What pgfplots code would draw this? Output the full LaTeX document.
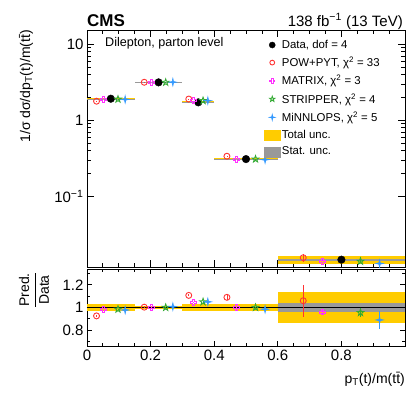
\documentclass[border=0pt]{standalone}
\usepackage{fontspec}
\setmainfont{Liberation Sans}
\usepackage{pgfplots}
\pgfplotsset{compat=1.18}

\definecolor{cmsyellow}{HTML}{FFCC00}
\definecolor{cmsgray}{HTML}{999999}
\definecolor{powred}{HTML}{FF3333}
\definecolor{matmag}{HTML}{FF33FF}
\definecolor{strgreen}{HTML}{33AA33}
\definecolor{minblue}{HTML}{3399FF}

\pgfdeclareplotmark{ocross}{%
  \pgfpathmoveto{\pgfqpoint{0.35\pgfplotmarksize}{\pgfplotmarksize}}%
  \pgfpathlineto{\pgfqpoint{0.35\pgfplotmarksize}{0.35\pgfplotmarksize}}%
  \pgfpathlineto{\pgfqpoint{\pgfplotmarksize}{0.35\pgfplotmarksize}}%
  \pgfpathlineto{\pgfqpoint{\pgfplotmarksize}{-0.35\pgfplotmarksize}}%
  \pgfpathlineto{\pgfqpoint{0.35\pgfplotmarksize}{-0.35\pgfplotmarksize}}%
  \pgfpathlineto{\pgfqpoint{0.35\pgfplotmarksize}{-\pgfplotmarksize}}%
  \pgfpathlineto{\pgfqpoint{-0.35\pgfplotmarksize}{-\pgfplotmarksize}}%
  \pgfpathlineto{\pgfqpoint{-0.35\pgfplotmarksize}{-0.35\pgfplotmarksize}}%
  \pgfpathlineto{\pgfqpoint{-\pgfplotmarksize}{-0.35\pgfplotmarksize}}%
  \pgfpathlineto{\pgfqpoint{-\pgfplotmarksize}{0.35\pgfplotmarksize}}%
  \pgfpathlineto{\pgfqpoint{-0.35\pgfplotmarksize}{0.35\pgfplotmarksize}}%
  \pgfpathlineto{\pgfqpoint{-0.35\pgfplotmarksize}{\pgfplotmarksize}}%
  \pgfpathclose\pgfusepathqstroke}
\pgfdeclareplotmark{ostar}{%
  \pgfpathmoveto{\pgfqpoint{0pt}{\pgfplotmarksize}}%
  \pgfpathlineto{\pgfqpoint{-0.235\pgfplotmarksize}{0.324\pgfplotmarksize}}%
  \pgfpathlineto{\pgfqpoint{-0.951\pgfplotmarksize}{0.309\pgfplotmarksize}}%
  \pgfpathlineto{\pgfqpoint{-0.380\pgfplotmarksize}{-0.124\pgfplotmarksize}}%
  \pgfpathlineto{\pgfqpoint{-0.588\pgfplotmarksize}{-0.809\pgfplotmarksize}}%
  \pgfpathlineto{\pgfqpoint{0pt}{-0.4\pgfplotmarksize}}%
  \pgfpathlineto{\pgfqpoint{0.588\pgfplotmarksize}{-0.809\pgfplotmarksize}}%
  \pgfpathlineto{\pgfqpoint{0.380\pgfplotmarksize}{-0.124\pgfplotmarksize}}%
  \pgfpathlineto{\pgfqpoint{0.951\pgfplotmarksize}{0.309\pgfplotmarksize}}%
  \pgfpathlineto{\pgfqpoint{0.235\pgfplotmarksize}{0.324\pgfplotmarksize}}%
  \pgfpathclose\pgfusepathqstroke}
\pgfdeclareplotmark{fstar}{%
  \pgfpathmoveto{\pgfqpoint{0pt}{\pgfplotmarksize}}%
  \pgfpathlineto{\pgfqpoint{0.18\pgfplotmarksize}{0.18\pgfplotmarksize}}%
  \pgfpathlineto{\pgfqpoint{\pgfplotmarksize}{0pt}}%
  \pgfpathlineto{\pgfqpoint{0.18\pgfplotmarksize}{-0.18\pgfplotmarksize}}%
  \pgfpathlineto{\pgfqpoint{0pt}{-\pgfplotmarksize}}%
  \pgfpathlineto{\pgfqpoint{-0.18\pgfplotmarksize}{-0.18\pgfplotmarksize}}%
  \pgfpathlineto{\pgfqpoint{-\pgfplotmarksize}{0pt}}%
  \pgfpathlineto{\pgfqpoint{-0.18\pgfplotmarksize}{0.18\pgfplotmarksize}}%
  \pgfpathclose\pgfusepathqfillstroke}

\newcommand{\bandbox}[5]{\addplot[fill=#5, draw=none, forget plot] coordinates {(#1,#3) (#2,#3) (#2,#4) (#1,#4)} -- cycle;}

\pgfplotstableread{
x y e
0.075 1.92 0
0.225 3.15 0
0.350 1.72 0
0.500 0.308 0
0.800 0.0146 0
}\datatop
\pgfplotstableread{
x y e
0.030 1.78 0.01
0.180 3.16 0.02
0.320 1.90 0.015
0.440 0.336 0.006
0.680 0.0155 0.002
}\powtop
\pgfplotstableread{
x y e
0.0525 1.89 0.01
0.2025 3.15 0.01
0.335 1.80 0.01
0.470 0.308 0.002
0.740 0.0140 0.0005
}\mattop
\pgfplotstableread{
x y e
0.0975 1.89 0.01
0.2475 3.15 0.01
0.365 1.81 0.01
0.530 0.308 0.002
0.860 0.0139 0.0006
}\strtop
\pgfplotstableread{
x y e
0.120 1.88 0.01
0.270 3.17 0.01
0.380 1.81 0.01
0.560 0.303 0.002
0.920 0.0130 0.0012
}\mintop

\pgfplotstableread{
x y e
0.030 0.926 0.006
0.180 1.003 0.006
0.320 1.107 0.008
0.440 1.090 0.02
0.680 1.060 0.14
}\powrat
\pgfplotstableread{
x y e
0.0525 0.985 0.006
0.2025 1.000 0.004
0.335 1.045 0.006
0.470 1.000 0.006
0.740 0.960 0.03
}\matrat
\pgfplotstableread{
x y e
0.0975 0.985 0.006
0.2475 1.000 0.004
0.365 1.050 0.006
0.530 1.000 0.006
0.860 0.955 0.04
}\strrat
\pgfplotstableread{
x y e
0.120 0.978 0.008
0.270 1.008 0.006
0.380 1.050 0.008
0.560 0.985 0.008
0.920 0.890 0.08
}\minrat

\pgfplotsset{
  cmsaxis/.style={
    scale only axis, width=318pt, xmin=0, xmax=1,
    tick align=inside, xtick pos=both, ytick pos=both,
    axis line style={line width=0.9pt},
    every tick/.style={black, line width=0.8pt},
    /pgf/number format/assume math mode=true,
    tick label style={font=\fontsize{15}{15}\selectfont},
    xtick={0,0.2,0.4,0.6,0.8},
    minor xtick={0.05,0.1,0.15,0.25,0.3,0.35,0.45,0.5,0.55,0.65,0.7,0.75,0.85,0.9,0.95},
  },
  predstyle/.style={only marks, mark size=3pt, line width=0.9pt,
    error bars/y dir=both, error bars/y explicit, error bars/error mark=none,
    error bars/error bar style={line width=0.8pt}},
}

\begin{document}
\begin{tikzpicture}
\begin{axis}[cmsaxis, name=top, at={(0pt,0pt)}, anchor=north west,
  height=237pt, ymode=log, ymin=0.0117, ymax=15.4,
  xticklabels={}, major tick length=7pt, minor tick length=4pt,
  ytick={0.1,1,10}, yticklabels={10\textsuperscript{−1},1,10},
  legend cell align=left,
  legend image post style={mark options={scale=0.8}},
  legend style={at={(0.545,0.975)}, anchor=north west, draw=none, fill=none,
    font=\fontsize{11.4}{11.4}\selectfont, row sep=3.2pt,
    /tikz/every even column/.append style={column sep=2pt}},
]
% total and stat bands
\bandbox{0}{0.15}{1.862}{1.978}{cmsyellow}
\bandbox{0.15}{0.3}{3.103}{3.197}{cmsyellow}
\bandbox{0.3}{0.4}{1.674}{1.766}{cmsyellow}
\bandbox{0.4}{0.6}{0.2997}{0.3163}{cmsyellow}
\bandbox{0.6}{1.0}{0.01263}{0.01657}{cmsyellow}
\bandbox{0}{0.15}{1.910}{1.930}{cmsgray}
\bandbox{0.15}{0.3}{3.134}{3.166}{cmsgray}
\bandbox{0.3}{0.4}{1.711}{1.729}{cmsgray}
\bandbox{0.4}{0.6}{0.3065}{0.3095}{cmsgray}
\bandbox{0.6}{1.0}{0.01407}{0.01513}{cmsgray}

\addplot[only marks, mark=*, mark size=3.8pt, black] table[x=x,y=y] {\datatop};
\addlegendentry{Data, dof = 4}
\addplot[predstyle, powred, mark=o] table[x=x,y=y,y error=e] {\powtop};
\addlegendentry{POW+PYT, χ\textsuperscript{2} = 33}
\addplot[predstyle, matmag, mark=ocross, mark size=2.9pt] table[x=x,y=y,y error=e] {\mattop};
\addlegendentry{MATRIX, χ\textsuperscript{2} = 3}
\addplot[predstyle, strgreen, mark=ostar, mark size=3.5pt] table[x=x,y=y,y error=e] {\strtop};
\addlegendentry{STRIPPER, χ\textsuperscript{2} = 4}
\addplot[predstyle, minblue, mark=fstar, mark size=3.8pt, line width=0.6pt] table[x=x,y=y,y error=e] {\mintop};
\addlegendentry{MiNNLOPS, χ\textsuperscript{2} = 5}
\addlegendimage{legend image code/.code={\fill[cmsyellow] (0pt,-5pt) rectangle (16pt,5pt);}}
\addlegendentry{Total unc.}
\addlegendimage{legend image code/.code={\fill[cmsgray] (0pt,-5pt) rectangle (16pt,5pt);}}
\addlegendentry{Stat. unc.}
\end{axis}

\begin{axis}[cmsaxis, name=rat, at={(0pt,-239pt)}, anchor=north west,
  height=77pt, ymin=0.66, ymax=1.34,
  xticklabels={0,0.2,0.4,0.6,0.8}, major tick length=5pt, minor tick length=3pt,
  ytick={0.8,1,1.2}, yticklabels={0.8,1,1.2}, minor ytick={0.7,0.9,1.1,1.3},
]
\bandbox{0}{0.15}{0.970}{1.030}{cmsyellow}
\bandbox{0.15}{0.3}{0.985}{1.015}{cmsyellow}
\bandbox{0.3}{0.4}{0.973}{1.027}{cmsyellow}
\bandbox{0.4}{0.6}{0.973}{1.027}{cmsyellow}
\bandbox{0.6}{1.0}{0.865}{1.135}{cmsyellow}
\bandbox{0}{0.15}{0.995}{1.005}{cmsgray}
\bandbox{0.15}{0.3}{0.994}{1.006}{cmsgray}
\bandbox{0.3}{0.4}{0.994}{1.006}{cmsgray}
\bandbox{0.4}{0.6}{0.992}{1.008}{cmsgray}
\bandbox{0.6}{1.0}{0.964}{1.036}{cmsgray}
\addplot[black, line width=0.8pt] coordinates {(0,1) (1,1)};
\addplot[predstyle, powred, mark=o] table[x=x,y=y,y error=e] {\powrat};
\addplot[predstyle, matmag, mark=ocross, mark size=2.9pt] table[x=x,y=y,y error=e] {\matrat};
\addplot[predstyle, strgreen, mark=ostar, mark size=3.5pt] table[x=x,y=y,y error=e] {\strrat};
\addplot[predstyle, minblue, mark=fstar, mark size=3.8pt, line width=0.6pt] table[x=x,y=y,y error=e] {\minrat};
\end{axis}

\node[anchor=base west, font=\bfseries\fontsize{17}{17}\selectfont, inner sep=0pt] at (0pt,4pt) {CMS};
\node[anchor=base east, font=\fontsize{15}{15}\selectfont, inner sep=0pt] at (316pt,4pt) {138 fb\textsuperscript{−1} (13 TeV)};
\node[anchor=base west, font=\fontsize{12.6}{12.6}\selectfont, inner sep=0pt] at (18pt,-16pt) {Dilepton, parton level};
\node[rotate=90, anchor=east, font=\fontsize{14}{14}\selectfont, inner sep=0pt] at (-61pt,0pt) {1/σ dσ/dp\textsubscript{T}(t)/m(t\=t)};
\node[rotate=90, font=\fontsize{14}{14}\selectfont, inner sep=0pt] at (-53pt,-260pt) {$\displaystyle\frac{\hbox{Pred.}}{\hbox{Data}}$};
\node[anchor=base east, font=\fontsize{14}{14}\selectfont, inner sep=0pt] at (318pt,-353.5pt) {p\textsubscript{T}(t)/m(t\=t)};

\pgfresetboundingbox
\path[use as bounding box] (-87pt,-364pt) rectangle (320pt,30pt);
\end{tikzpicture}
\end{document}
